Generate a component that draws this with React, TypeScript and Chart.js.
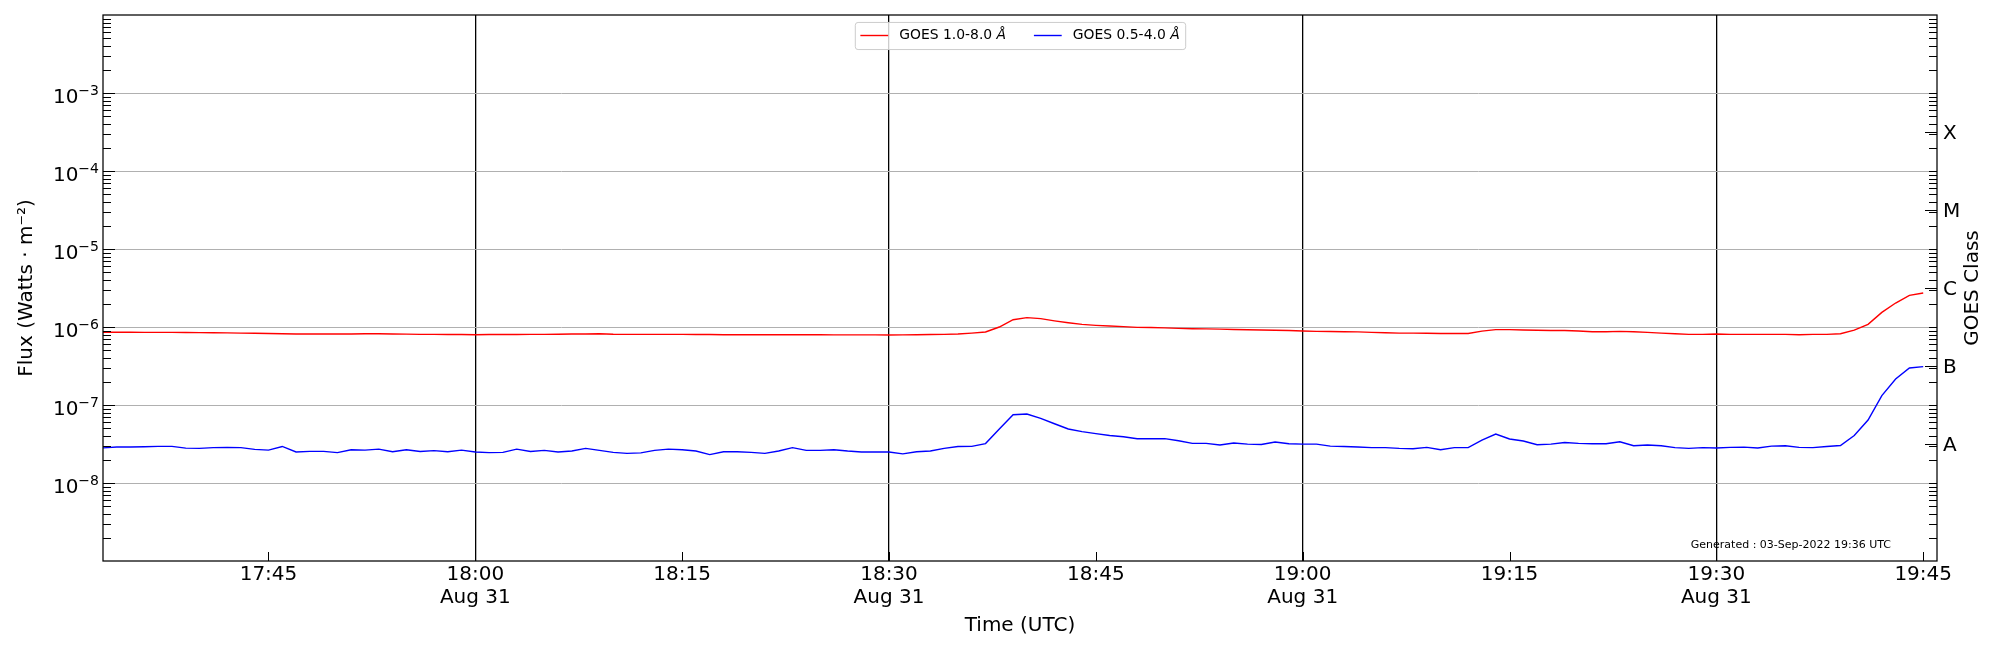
import React, { useEffect, useRef } from "react";
import { Chart, registerables } from "chart.js";

Chart.register(...registerables);

// ---------------- data ----------------
const sampleStart = "17:33";
const sampleStepMinutes = 1;
const axisStart = "17:33";
const axisEnd = "19:46";

// GOES 1.0-8.0 Å (long channel), W m^-2, one value per minute from 17:33
const goesLongFlux = [
  8.55e-7, 8.55e-7, 8.55e-7, 8.54e-7, 8.54e-7, 8.53e-7, 8.5e-7, 8.48e-7, 8.45e-7, 8.4e-7,
  8.35e-7, 8.3e-7, 8.25e-7, 8.2e-7, 8.15e-7, 8.15e-7, 8.12e-7, 8.12e-7, 8.15e-7, 8.2e-7,
  8.2e-7, 8.15e-7, 8.1e-7, 8.05e-7, 8.05e-7, 8.0e-7, 8.0e-7, 7.95e-7, 8.0e-7, 8.0e-7,
  8.02e-7, 8.05e-7, 8.05e-7, 8.08e-7, 8.13e-7, 8.15e-7, 8.2e-7, 8.08e-7, 8.05e-7, 8.05e-7,
  8.05e-7, 8.05e-7, 8.05e-7, 8.0e-7, 8.0e-7, 7.97e-7, 7.97e-7, 7.97e-7, 7.97e-7, 7.97e-7,
  7.97e-7, 7.95e-7, 7.95e-7, 7.93e-7, 7.93e-7, 7.93e-7, 7.92e-7, 7.9e-7, 7.93e-7, 7.97e-7,
  8.0e-7, 8.05e-7, 8.15e-7, 8.35e-7, 8.63e-7, 1.0e-6, 1.24e-6, 1.32e-6, 1.28e-6, 1.2e-6,
  1.135e-6, 1.08e-6, 1.05e-6, 1.03e-6, 1.01e-6, 9.9e-7, 9.85e-7, 9.75e-7, 9.6e-7, 9.5e-7,
  9.45e-7, 9.4e-7, 9.3e-7, 9.2e-7, 9.15e-7, 9.1e-7, 9.0e-7, 8.9e-7, 8.8e-7, 8.75e-7,
  8.7e-7, 8.65e-7, 8.53e-7, 8.45e-7, 8.35e-7, 8.35e-7, 8.3e-7, 8.25e-7, 8.25e-7, 8.25e-7,
  8.85e-7, 9.25e-7, 9.25e-7, 9.15e-7, 9.1e-7, 9.0e-7, 9.0e-7, 8.9e-7, 8.7e-7, 8.7e-7,
  8.8e-7, 8.7e-7, 8.53e-7, 8.35e-7, 8.2e-7, 8.05e-7, 8.05e-7, 8.13e-7, 8.05e-7, 8.05e-7,
  8.05e-7, 8.05e-7, 8.05e-7, 7.97e-7, 8.05e-7, 8.05e-7, 8.2e-7, 9.1e-7, 1.08e-6, 1.54e-6,
  2.03e-6, 2.54e-6, 2.73e-6,
];

// GOES 0.5-4.0 Å (short channel), W m^-2, one value per minute from 17:33
const goesShortFlux = [
  2.82e-8, 2.9e-8, 2.9e-8, 2.92e-8, 2.95e-8, 2.95e-8, 2.8e-8, 2.78e-8, 2.84e-8, 2.86e-8,
  2.84e-8, 2.7e-8, 2.64e-8, 2.94e-8, 2.5e-8, 2.54e-8, 2.54e-8, 2.45e-8, 2.67e-8, 2.64e-8,
  2.72e-8, 2.52e-8, 2.67e-8, 2.54e-8, 2.6e-8, 2.52e-8, 2.64e-8, 2.5e-8, 2.45e-8, 2.47e-8,
  2.72e-8, 2.54e-8, 2.62e-8, 2.5e-8, 2.57e-8, 2.78e-8, 2.62e-8, 2.47e-8, 2.4e-8, 2.43e-8,
  2.62e-8, 2.72e-8, 2.67e-8, 2.57e-8, 2.31e-8, 2.52e-8, 2.52e-8, 2.47e-8, 2.4e-8, 2.57e-8,
  2.84e-8, 2.62e-8, 2.62e-8, 2.67e-8, 2.57e-8, 2.5e-8, 2.5e-8, 2.5e-8, 2.36e-8, 2.52e-8,
  2.57e-8, 2.78e-8, 2.94e-8, 2.95e-8, 3.2e-8, 4.92e-8, 7.5e-8, 7.65e-8, 6.74e-8, 5.75e-8,
  4.92e-8, 4.55e-8, 4.29e-8, 4.07e-8, 3.92e-8, 3.7e-8, 3.7e-8, 3.7e-8, 3.48e-8, 3.22e-8,
  3.22e-8, 3.07e-8, 3.25e-8, 3.15e-8, 3.12e-8, 3.35e-8, 3.18e-8, 3.15e-8, 3.15e-8, 2.97e-8,
  2.94e-8, 2.9e-8, 2.84e-8, 2.84e-8, 2.78e-8, 2.75e-8, 2.86e-8, 2.67e-8, 2.84e-8, 2.84e-8,
  3.55e-8, 4.25e-8, 3.67e-8, 3.45e-8, 3.1e-8, 3.15e-8, 3.3e-8, 3.22e-8, 3.18e-8, 3.18e-8,
  3.38e-8, 3.0e-8, 3.07e-8, 3.0e-8, 2.84e-8, 2.78e-8, 2.84e-8, 2.81e-8, 2.86e-8, 2.88e-8,
  2.81e-8, 2.97e-8, 3.0e-8, 2.86e-8, 2.84e-8, 2.94e-8, 3.03e-8, 4.07e-8, 6.42e-8, 1.32e-7,
  2.15e-7, 2.98e-7, 3.1e-7,
];

const seriesLabels = ["GOES 1.0-8.0 Å", "GOES 0.5-4.0 Å"];
const seriesColors = ["#ff0000", "#0000ff"];

const timeTicks = ["17:45", "18:00", "18:15", "18:30", "18:45", "19:00", "19:15", "19:30", "19:45"];
const dateTicks = ["18:00", "18:30", "19:00", "19:30"];
const dateLabel = "Aug 31";

const fluxDecades = [-9, -8, -7, -6, -5, -4, -3, -2];
const labeledDecades = [-8, -7, -6, -5, -4, -3];
const goesClasses = ["A", "B", "C", "M", "X"];
const goesClassExponents = [-7.5, -6.5, -5.5, -4.5, -3.5];

const yTitle = "Flux (Watts · m⁻²)";
const xTitle = "Time (UTC)";
const y2Title = "GOES Class";
const generatedNote = "Generated : 03-Sep-2022 19:36 UTC";

// ---------------- helpers ----------------
const FONT = '"DejaVu Sans", "Liberation Sans", sans-serif';
const SUP: Record<string, string> = {
  "-": "⁻", "0": "⁰", "1": "¹", "2": "²", "3": "³", "4": "⁴",
  "5": "⁵", "6": "⁶", "7": "⁷", "8": "⁸", "9": "⁹",
};
const UNSUP: Record<string, string> = {
  "⁻": "−", "⁰": "0", "¹": "1", "²": "2", "³": "3", "⁴": "4",
  "⁵": "5", "⁶": "6", "⁷": "7", "⁸": "8", "⁹": "9",
};
const toMinutes = (s: string) => {
  const [h, m] = s.split(":").map((p) => parseInt(p, 10));
  return h * 60 + m;
};
const toSeries = (vals: number[]) =>
  vals.map((v, i) => ({ x: toMinutes(sampleStart) + i * sampleStepMinutes, y: v }));
const dateTickMinutes = dateTicks.map(toMinutes);

const zeroPad = (s: any) => {
  s.paddingTop = 0;
  s.paddingBottom = 0;
  s.paddingLeft = 0;
  s.paddingRight = 0;
};

// draws a label like "10⁻³" in mathtext style (full-size base, 70% raised exponent)
const drawPowerLabel = (ctx: any, label: string, xRight: number, baseline: number, size: number) => {
  let base = "";
  let exp = "";
  for (const ch of label) {
    if (UNSUP[ch] !== undefined) exp += UNSUP[ch];
    else base += ch;
  }
  const baseFont = `${size}px ${FONT}`;
  const supFont = `${size * 0.7}px ${FONT}`;
  ctx.font = baseFont;
  const wb = ctx.measureText(base).width;
  ctx.font = supFont;
  const we = ctx.measureText(exp).width;
  const x0 = xRight - wb - we;
  ctx.textAlign = "left";
  ctx.textBaseline = "alphabetic";
  ctx.font = baseFont;
  ctx.fillText(base, x0, baseline);
  ctx.font = supFont;
  ctx.fillText(exp, x0 + wb, baseline - size * 0.375);
};

const decorPlugin = {
  id: "goesDecor",
  afterDraw(chart: any) {
    const { ctx, chartArea: a, scales } = chart;
    const ys = scales.y;
    const y2 = scales.y2;
    const xs = scales.x;
    ctx.save();
    ctx.strokeStyle = "#000";
    ctx.lineWidth = 1;
    const line = (x1: number, y1: number, x2: number, y2p: number) => {
      ctx.beginPath();
      ctx.moveTo(x1, y1);
      ctx.lineTo(x2, y2p);
      ctx.stroke();
    };
    // inward log ticks on left and right axes
    for (const e of fluxDecades) {
      for (let m = 1; m <= 9; m++) {
        const v = m * Math.pow(10, e);
        const py = Math.round(ys.getPixelForValue(v)) + 0.5;
        if (py < a.top + 1 || py > a.bottom - 1) continue;
        line(a.left, py, a.left + (m === 1 ? 12 : 8), py);
        line(a.right, py, a.right - 8, py);
      }
    }
    for (const c of goesClassExponents) {
      const py = Math.round(y2.getPixelForValue(Math.pow(10, c))) + 0.5;
      line(a.right, py, a.right - 12, py);
    }
    // inward time ticks
    for (const t of timeTicks) {
      const px = Math.round(xs.getPixelForValue(toMinutes(t))) + 0.5;
      line(px, a.bottom, px, a.bottom - 9);
    }
    // frame
    ctx.lineWidth = 1.25;
    ctx.strokeRect(a.left, a.top, a.right - a.left, a.bottom - a.top);

    // left tick labels (10^n) from the scale's own ticks
    ctx.fillStyle = "#000";
    ys.ticks.forEach((t: any) => {
      if (!t.label) return;
      const py = ys.getPixelForValue(t.value);
      drawPowerLabel(ctx, String(t.label), a.left - 4, py + 9.7, 20);
    });

    // legend
    const fs = 13.9;
    const fontN = `${fs}px ${FONT}`;
    const fontI = `italic ${fs}px ${FONT}`;
    const items = chart.data.datasets.map((ds: any) => {
      const label: string = ds.label;
      const k = label.lastIndexOf("Å");
      const main = k >= 0 ? label.slice(0, k) : label;
      const unit = k >= 0 ? "Å" : "";
      ctx.font = fontN;
      const w1 = ctx.measureText(main).width;
      ctx.font = fontI;
      const w2 = unit ? ctx.measureText(unit).width : 0;
      return { main, unit, w1, w2, color: ds.borderColor };
    });
    const bp = 0.4 * fs, hl = 2 * fs, htp = 0.8 * fs, cs = 2 * fs;
    const total =
      2 * bp +
      items.reduce((s: number, it: any) => s + hl + htp + it.w1 + it.w2, 0) +
      cs * (items.length - 1);
    const h = 1.95 * fs;
    const x0 = (a.left + a.right) / 2 - total / 2;
    const y0 = a.top + 0.5 * fs;
    ctx.beginPath();
    if (ctx.roundRect) ctx.roundRect(x0 + 0.5, y0 + 0.5, total, h, 0.2 * fs);
    else ctx.rect(x0 + 0.5, y0 + 0.5, total, h);
    ctx.fillStyle = "rgba(255,255,255,0.8)";
    ctx.fill();
    ctx.strokeStyle = "#cccccc";
    ctx.lineWidth = 1;
    ctx.stroke();
    let cx = x0 + bp;
    const cy = y0 + h / 2;
    ctx.textBaseline = "middle";
    ctx.textAlign = "left";
    for (const it of items) {
      ctx.strokeStyle = it.color;
      ctx.lineWidth = 1.4;
      line(cx, cy, cx + hl, cy);
      cx += hl + htp;
      ctx.fillStyle = "#000";
      ctx.font = fontN;
      ctx.fillText(it.main, cx, cy);
      cx += it.w1;
      if (it.unit) {
        ctx.font = fontI;
        ctx.fillText(it.unit, cx, cy);
      }
      cx += it.w2 + cs;
    }

    // generated note
    ctx.fillStyle = "#000";
    ctx.font = `11px ${FONT}`;
    ctx.textAlign = "right";
    ctx.textBaseline = "middle";
    ctx.fillText(generatedNote, a.right - 46, a.bottom - 16);

    // right axis title (reads bottom-to-top)
    ctx.save();
    ctx.translate(a.right + 36, (a.top + a.bottom) / 2);
    ctx.rotate(-Math.PI / 2);
    ctx.font = `20px ${FONT}`;
    ctx.textAlign = "center";
    ctx.textBaseline = "middle";
    ctx.fillText(y2Title, 0, 0);
    ctx.restore();

    ctx.restore();
  },
};

export default function App() {
  const canvasRef = useRef<HTMLCanvasElement | null>(null);

  useEffect(() => {
    document.body.style.margin = "0";
    const canvas = canvasRef.current;
    if (!canvas) return;
    const chart = new Chart(canvas, {
      type: "line",
      data: {
        datasets: [
          {
            label: seriesLabels[0],
            data: toSeries(goesLongFlux),
            borderColor: seriesColors[0],
            backgroundColor: seriesColors[0],
            borderWidth: 1.4,
            pointRadius: 0,
            tension: 0,
            yAxisID: "y",
          },
          {
            label: seriesLabels[1],
            data: toSeries(goesShortFlux),
            borderColor: seriesColors[1],
            backgroundColor: seriesColors[1],
            borderWidth: 1.4,
            pointRadius: 0,
            tension: 0,
            yAxisID: "y",
          },
        ],
      },
      options: {
        animation: false,
        responsive: false,
        events: [],
        layout: { padding: { top: 15, left: 0, right: 0, bottom: 0 } },
        plugins: {
          legend: { display: false },
          tooltip: { enabled: false },
        },
        scales: {
          x: {
            type: "linear",
            position: "bottom",
            min: toMinutes(axisStart),
            max: toMinutes(axisEnd),
            afterBuildTicks: (s: any) => {
              s.ticks = timeTicks.map((t) => ({ value: toMinutes(t) }));
            },
            afterFit: (s: any) => {
              s.height = 89;
              zeroPad(s);
            },
            ticks: {
              autoSkip: false,
              maxRotation: 0,
              minRotation: 0,
              padding: 3,
              color: "#000",
              font: { family: FONT, size: 20, lineHeight: 1.125 },
              callback: (value: any) => {
                const t = timeTicks.find((tt) => toMinutes(tt) === value) || "";
                return dateTicks.includes(t) ? [t, dateLabel] : t;
              },
            },
            grid: {
              drawTicks: false,
              lineWidth: 1.3,
              color: (c: any) =>
                c.tick && dateTickMinutes.includes(c.tick.value) ? "#000000" : "rgba(0,0,0,0)",
            },
            border: { display: false },
            title: {
              display: true,
              text: xTitle,
              color: "#000",
              font: { family: FONT, size: 20, lineHeight: 1.2 },
              padding: { top: 0, bottom: 12 },
            },
          },
          y: {
            type: "logarithmic",
            position: "left",
            min: 1e-9,
            max: 1e-2,
            afterBuildTicks: (s: any) => {
              s.ticks = fluxDecades.map((e) => ({ value: Math.pow(10, e) }));
            },
            afterFit: (s: any) => {
              s.width = 103;
              zeroPad(s);
            },
            ticks: {
              display: false,
              autoSkip: false,
              callback: (value: any) => {
                const e = Math.round(Math.log10(value));
                if (!labeledDecades.includes(e)) return "";
                return "10" + String(e).split("").map((ch) => SUP[ch]).join("");
              },
            },
            grid: {
              drawTicks: false,
              lineWidth: 1,
              color: (c: any) => {
                if (!c.tick) return "rgba(0,0,0,0)";
                const e = Math.round(Math.log10(c.tick.value));
                return labeledDecades.includes(e) ? "#b0b0b0" : "rgba(0,0,0,0)";
              },
            },
            border: { display: false },
            title: {
              display: true,
              text: yTitle,
              color: "#000",
              font: { family: FONT, size: 20, lineHeight: 1.2 },
              padding: { top: 15, bottom: 0 },
            },
          },
          y2: {
            type: "logarithmic",
            position: "right",
            min: 1e-9,
            max: 1e-2,
            afterBuildTicks: (s: any) => {
              s.ticks = goesClassExponents.map((e) => ({ value: Math.pow(10, e) }));
            },
            afterFit: (s: any) => {
              s.width = 63;
              zeroPad(s);
            },
            ticks: {
              autoSkip: false,
              padding: 6,
              labelOffset: 1.5,
              color: "#000",
              font: { family: FONT, size: 20 },
              callback: (_v: any, i: number) => goesClasses[i],
            },
            grid: { display: false, drawTicks: false },
            border: { display: false },
          },
        },
      },
      plugins: [decorPlugin],
    } as any);
    return () => chart.destroy();
  }, []);

  return (
    <div style={{ width: 2000, height: 650 }}>
      <canvas ref={canvasRef} width={2000} height={650} style={{ display: "block", width: 2000, height: 650 }} />
    </div>
  );
}
